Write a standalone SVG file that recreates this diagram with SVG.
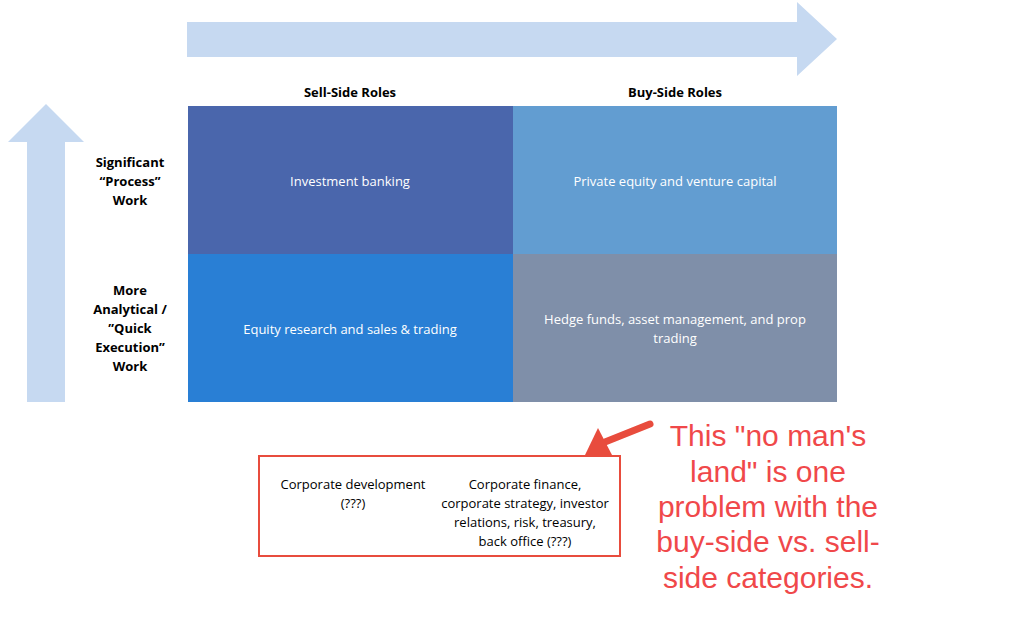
<svg xmlns="http://www.w3.org/2000/svg" width="1026" height="627" viewBox="0 0 1026 627">
<style>
.w{font-family:"Open Sans","Liberation Sans",sans-serif;font-size:13px;fill:#fff;text-anchor:middle}
.h{font-family:"Open Sans","Liberation Sans",sans-serif;font-size:13px;font-weight:bold;fill:#000;text-anchor:middle}
.k{font-family:"Open Sans","Liberation Sans",sans-serif;font-size:13px;fill:#000;text-anchor:middle}
.r{font-family:"Liberation Sans",Arial,sans-serif;font-size:30px;fill:#F0484A;text-anchor:middle}
.ar{fill:#C6D9F1}
</style>
<rect width="1026" height="627" fill="#fff"/>
<g id="arrow-h"><polygon class="ar" points="187,22 797,22 797,2 837,39 797,76 797,57 187,57"/></g>
<g id="arrow-v"><polygon class="ar" points="27,402 27,142 8,142 46,104 84,142 65,142 65,402"/></g>
<g id="headers">
<text class="h" x="350" y="97">Sell-Side Roles</text>
<text class="h" x="675" y="97">Buy-Side Roles</text>
<text class="h" x="130" y="167">Significant</text>
<text class="h" x="130" y="186">“Process”</text>
<text class="h" x="130" y="205">Work</text>
<text class="h" x="130" y="295">More</text>
<text class="h" x="130" y="314">Analytical /</text>
<text class="h" x="130" y="333">”Quick</text>
<text class="h" x="130" y="352">Execution”</text>
<text class="h" x="130" y="371">Work</text>
</g>
<g id="ib"><rect x="188" y="106" width="325" height="148" fill="#4A66AC"/><text class="w" x="350" y="186">Investment banking</text></g>
<g id="pe"><rect x="513" y="106" width="324" height="148" fill="#629DD1"/><text class="w" x="675" y="186">Private equity and venture capital</text></g>
<g id="er"><rect x="188" y="254" width="325" height="148" fill="#297FD5"/><text class="w" x="350" y="334">Equity research and sales &amp; trading</text></g>
<g id="hf"><rect x="513" y="254" width="324" height="148" fill="#7F8FA9"/><text class="w" x="675" y="324">Hedge funds, asset management, and prop</text><text class="w" x="675" y="343">trading</text></g>
<g id="corp"><rect x="259" y="456" width="361" height="100" fill="#fff" stroke="#E84C3D" stroke-width="2"/>
<text class="k" x="353" y="489">Corporate development</text><text class="k" x="353" y="508">(???)</text>
<text class="k" x="525" y="489">Corporate finance,</text><text class="k" x="525" y="508">corporate strategy, investor</text><text class="k" x="525" y="527">relations, risk, treasury,</text><text class="k" x="525" y="546">back office (???)</text></g>
<g id="connectors"><line x1="650" y1="424" x2="605" y2="442" stroke="#E84C3D" stroke-width="7" stroke-linecap="round"/><polygon points="585,455 598,428 612,455" fill="#E84C3D"/></g>
<g id="note">
<text class="r" x="768" y="446">This "no man's</text>
<text class="r" x="768" y="482">land" is one</text>
<text class="r" x="768" y="517">problem with the</text>
<text class="r" x="768" y="552">buy-side vs. sell-</text>
<text class="r" x="768" y="588">side categories.</text>
</g>
</svg>
